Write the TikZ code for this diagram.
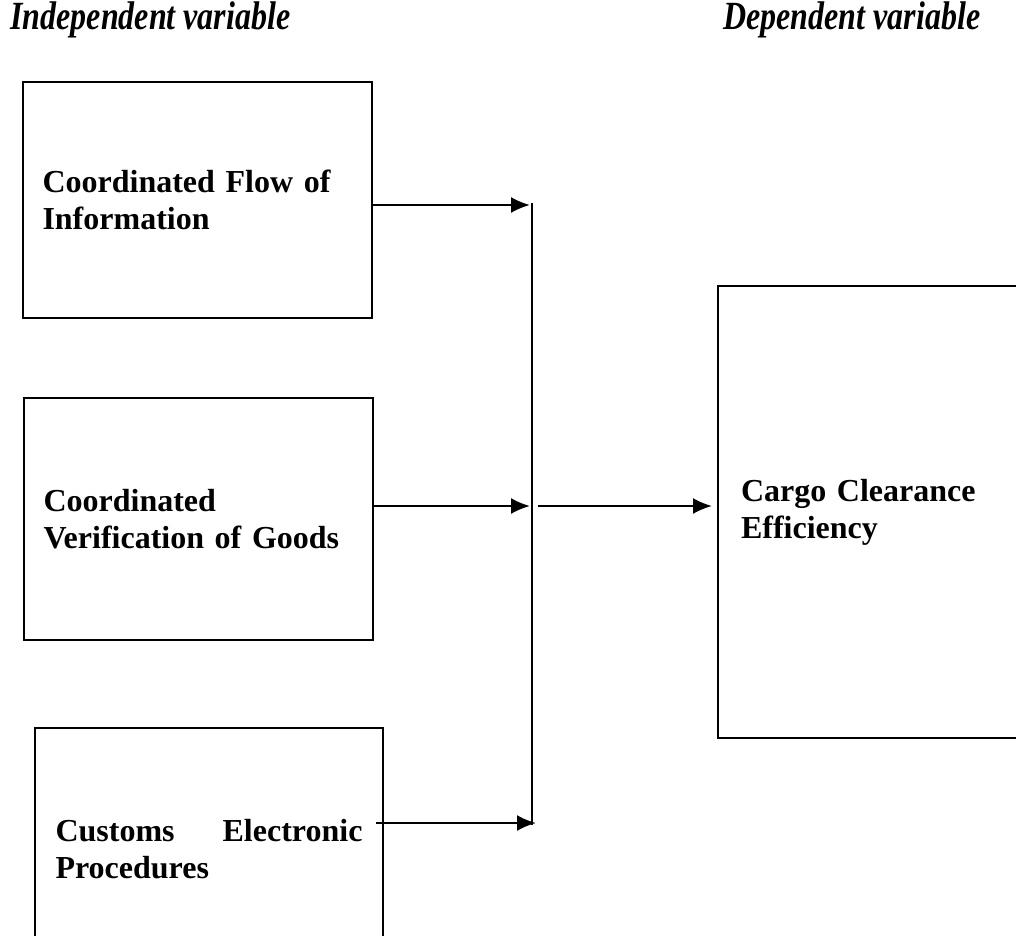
\documentclass[tikz,border=0pt]{standalone}
\usepackage{fontspec}
\setmainfont{Liberation Serif}
\usetikzlibrary{arrows.meta}

\begin{document}
\hyphenpenalty=10000
\exhyphenpenalty=10000
\begin{tikzpicture}[x=1pt,y=-1pt,>={Latex[length=19pt,width=16pt]},line width=2.2pt,
        varbox/.style={draw,line width=2pt,anchor=north west,inner sep=0pt,
                align=left,font=\fontsize{32}{37}\selectfont\bfseries},
        heading/.style={anchor=west,yscale=1.25,transform shape,
                font=\fontsize{32}{37}\selectfont\bfseries\itshape}]
        % page frame
        \clip (0,0) rectangle (1016,935);

        % the two headings
        \node[heading] (indep) at (6,20) {Independent variable};
        \node[heading] (dep) at (719,20) {Dependent variable};

        % the independent variables
        \node[varbox,minimum width=349,minimum height=236,text width=310] (info) at (22,81)
                {Coordinated Flow of Information};
        \node[varbox,minimum width=349,minimum height=242,text width=310] (verif) at (23,397)
                {Coordinated Verification of Goods};
        \node[varbox,minimum width=348,minimum height=242,text width=307,align=justify] (customs) at (34,727)
                {Customs Electronic Procedures};

        % the dependent variable
        \node[varbox,minimum width=340,minimum height=452,text width=294] (cargo) at (717,285)
                {Cargo Clearance Efficiency};

        % the collecting line
        \coordinate (top) at (532,203);
        \coordinate (bottom) at (532,825);
        \draw (top) -- (bottom);

        \coordinate (j1) at (530,205);
        \coordinate (j2) at (530,506);
        \coordinate (j3) at (536,823);
        \coordinate (j4) at (538,506);
        \draw[->] (info.east |- j1) -- (j1);
        \draw[->] (verif.east |- j2) -- (j2);
        \draw[->] ([xshift=-8pt]customs.east |- j3) -- (j3);
        \draw[->,shorten >=5pt] (j4) -- (cargo.west |- j4);
\end{tikzpicture}
\end{document}
